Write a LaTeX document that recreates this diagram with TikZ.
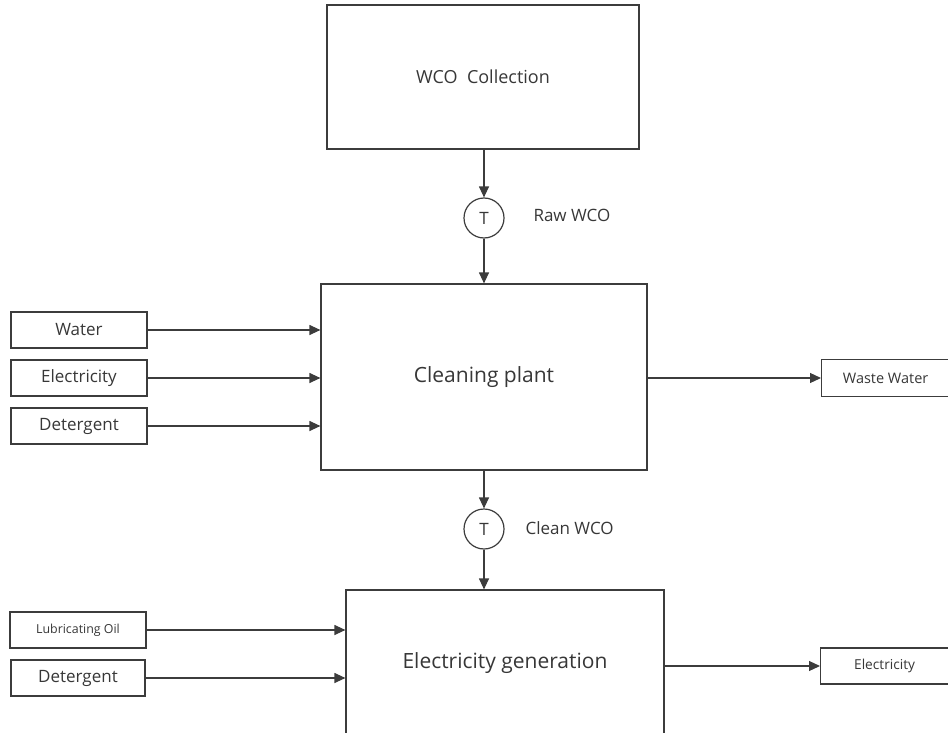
\documentclass[tikz,border=0pt]{standalone}
\usepackage{fontspec}
\setmainfont{Open Sans}
\usetikzlibrary{arrows.meta}
\definecolor{edgegray}{RGB}{60,60,60}
\definecolor{textgray}{RGB}{55,55,55}
\tikzstyle{process}=[rectangle, draw=edgegray, line width=1.2pt, text=textgray, inner sep=0pt]
\tikzstyle{stream}=[process, minimum width=136pt, minimum height=36pt, font=\fontsize{17}{20}\selectfont]
\tikzstyle{tank}=[circle, draw=edgegray, line width=1.2pt, text=textgray, minimum size=40pt, inner sep=0pt, font=\fontsize{17}{20}\selectfont]
\tikzstyle{flowlabel}=[anchor=west, text=textgray, font=\fontsize{17}{20}\selectfont]
\tikzstyle{pipe}=[draw=edgegray, line width=1.2pt, -{Triangle[length=11pt,width=10pt]}]

\begin{document}
\begin{tikzpicture}[x=1pt,y=-1pt]
        \clip (0,0) rectangle (948,733);

        % main units
        \node[process, minimum width=312pt, minimum height=144pt, font=\fontsize{18}{21}\selectfont] (collect) at (483,77) {WCO\ \ Collection};
        \node[process, minimum width=326pt, minimum height=186pt, font=\fontsize{21}{25}\selectfont] (clean) at (484,377) {Cleaning plant};
        \node[process, minimum width=318pt, minimum height=146pt, font=\fontsize{21}{25}\selectfont] (gen) at (505,663) {Electricity generation};

        % transport
        \node[tank] (t1) at (484,218) {T};
        \node[tank] (t2) at (484,529) {T};
        \node[flowlabel] (raw) at (530,215) {Raw WCO};
        \node[flowlabel] (cwco) at (522,528) {Clean WCO};

        \draw[pipe] (collect.south -| t1) -- (t1.north);
        \draw[pipe] (t1.south) -- (clean.north -| t1);
        \draw[pipe] (clean.south -| t2) -- (t2.north);
        \draw[pipe] (t2.south) -- (gen.north -| t2);

        % inputs to cleaning
        \foreach \name/\label/\y in {water/Water/330, elec/Electricity/378, det/Detergent/426} {
            \node[stream] (\name) at (79,\y) {\label};
            \draw[pipe] (\name.east) -- (\name.east -| clean.west);
        }

        % inputs to generation
        \node[stream, font=\fontsize{12.4}{15}\selectfont] (oil) at (78,630) {Lubricating Oil};
        \node[stream, minimum width=134pt] (det2) at (78,678) {Detergent};
        \draw[pipe] (oil.east) -- (oil.east -| gen.west);
        \draw[pipe] (det2.east) -- (det2.east -| gen.west);

        % outputs
        \node[stream, anchor=west, minimum width=130pt, minimum height=37pt, font=\fontsize{14.5}{17}\selectfont] (waste) at (821,378) {\hspace*{-2pt}Waste Water};
        \node[stream, anchor=west, minimum width=130pt, font=\fontsize{13.7}{16}\selectfont] (power) at (820,666) {\hspace*{-2pt}Electricity};
        \draw[pipe] (clean.east |- waste.west) -- (waste.west);
        \draw[pipe] (gen.east |- power.west) -- (power.west);
    \end{tikzpicture}
\end{document}
